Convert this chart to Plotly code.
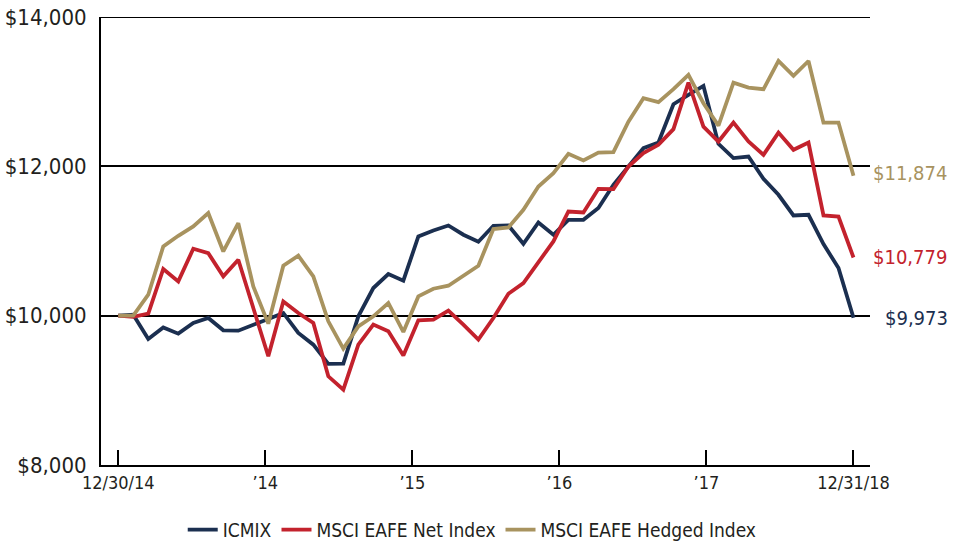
import plotly.graph_objects as go

months = list(range(50))

icmix = [10000, 10013, 9688, 9843, 9759, 9902, 9969, 9804, 9799, 9871,
         9955, 10036, 9769, 9612, 9354, 9358, 9991, 10370, 10558, 10468,
         11061, 11141, 11208, 11084, 10990, 11204, 11208, 10963, 11248, 11084,
         11284, 11284, 11441, 11753, 11997, 12243, 12320, 12832, 12957, 13077,
         12301, 12110, 12131, 11833, 11619, 11342, 11351, 10959, 10638, 9973]

net = [10000, 9983, 10027, 10625, 10459, 10896, 10838, 10526, 10749, 10100,
       9456, 10191, 10036, 9902, 9188, 9010, 9612, 9880, 9790, 9465,
       9937, 9946, 10067, 9880, 9679, 9969, 10294, 10437, 10713, 10994,
       11395, 11382, 11699, 11695, 11997, 12177, 12288, 12498, 13121, 12532,
       12332, 12586, 12332, 12154, 12452, 12221, 12318, 11342, 11328, 10779]

hedged = [10000, 10000, 10281, 10927, 11070, 11195, 11374, 10860, 11240, 10392,
          9893, 10669, 10803, 10526, 9924, 9559, 9857, 9991, 10170, 9782,
          10258, 10361, 10401, 10535, 10669, 11160, 11181, 11418, 11730, 11909,
          12167, 12078, 12185, 12190, 12599, 12912, 12859, 13033, 13224, 12845,
          12546, 13121, 13054, 13033, 13411, 13211, 13411, 12586, 12586, 11874]

series_names = ["ICMIX", "MSCI EAFE Net Index", "MSCI EAFE Hedged Index"]
series_colors = ["#1b2f50", "#c3222d", "#a8935f"]
end_labels = ["$9,973", "$10,779", "$11,874"]

x_tick_vals = [0, 9.8, 19.6, 29.4, 39.2, 49]
x_tick_text = ["12/30/14", "’14", "’15", "’16", "’17", "12/31/18"]
y_tick_vals = [8000, 10000, 12000, 14000]
y_tick_text = ["$8,000", "$10,000", "$12,000", "$14,000"]

FONT = "DejaVu Sans Condensed, Liberation Sans Narrow, sans-serif"

fig = go.Figure()
all_series = [icmix, net, hedged]
for name, vals, col in zip(series_names, all_series, series_colors):
    fig.add_trace(go.Scatter(x=months, y=vals, mode="lines", name=name,
                             line=dict(color=col, width=3.8)))

shifts = {"$9,973": (30, 0), "$10,779": (18, 1), "$11,874": (18, 3)}
for vals, col, lab in zip(all_series, series_colors, end_labels):
    xs, ys = shifts[lab]
    fig.add_annotation(x=months[-1], y=vals[-1], text=lab, showarrow=False,
                       xref="x", yref="y", xanchor="left", xshift=xs, yshift=ys,
                       font=dict(family=FONT, size=20, color=col))

# top gridline (at the range edge plotly would skip it)
fig.add_shape(type="line", xref="paper", yref="y", x0=0, x1=1,
              y0=y_tick_vals[-1], y1=y_tick_vals[-1],
              line=dict(color="#000", width=2), layer="below")

fig.update_layout(
    width=954, height=544,
    margin=dict(l=101, r=84, t=17, b=79, autoexpand=False),
    plot_bgcolor="white", paper_bgcolor="white",
    showlegend=True,
    legend=dict(orientation="h", x=0.495, xref="container", xanchor="center",
                y=0.026, yref="container", yanchor="middle",
                font=dict(family=FONT, size=19, color="#231f20"),
                itemwidth=30, tracegroupgap=0),
    font=dict(family=FONT, color="#231f20"),
)
fig.update_xaxes(range=[-1.15, 50.1], tickmode="array", tickvals=x_tick_vals,
                 ticktext=x_tick_text, ticks="inside", ticklen=15, tickwidth=1.5,
                 tickcolor="#000", showgrid=False, zeroline=False, automargin=False,
                 showline=True, linecolor="#000", linewidth=2,
                 tickfont=dict(family=FONT, size=18, color="#231f20"))
fig.update_yaxes(range=[8000, 14000], tickmode="array", tickvals=y_tick_vals,
                 ticktext=y_tick_text, ticks="", showgrid=True, gridcolor="#000",
                 gridwidth=1.5, zeroline=False, showline=True, linecolor="#000",
                 linewidth=2, ticklabelstandoff=8, automargin=False,
                 tickfont=dict(family=FONT, size=22, color="#231f20"))

fig.write_html("out.html", config={"displayModeBar": False},
               post_script="document.body.style.margin='0px';")
